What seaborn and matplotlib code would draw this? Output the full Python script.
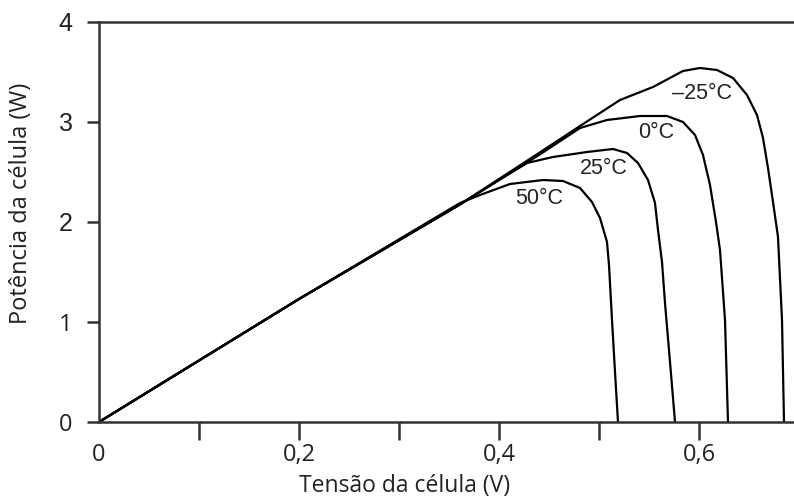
import matplotlib
matplotlib.use("Agg")
import matplotlib.pyplot as plt
import seaborn as sns
import pandas as pd

# ---- data ----
temp_labels = ["50°C", "25°C", "0°C", "–25°C"]

v_50 = [0, 0.20, 0.361, 0.381, 0.411, 0.444, 0.464, 0.481, 0.493, 0.501, 0.508, 0.510, 0.513, 0.516, 0.519]
p_50 = [0, 1.23, 2.19, 2.27, 2.38, 2.42, 2.41, 2.34, 2.20, 2.04, 1.80, 1.57, 1.02, 0.50, 0]

v_25 = [0, 0.20, 0.36, 0.40, 0.428, 0.454, 0.488, 0.514, 0.528, 0.539, 0.549, 0.556, 0.559, 0.563, 0.566, 0.571, 0.576]
p_25 = [0, 1.23, 2.17, 2.42, 2.59, 2.65, 2.70, 2.73, 2.69, 2.59, 2.42, 2.19, 1.92, 1.60, 1.19, 0.60, 0]

v_0 = [0, 0.20, 0.36, 0.40, 0.44, 0.481, 0.508, 0.541, 0.568, 0.584, 0.596, 0.604, 0.611, 0.617, 0.621, 0.626, 0.629]
p_0 = [0, 1.23, 2.17, 2.42, 2.67, 2.94, 3.02, 3.06, 3.06, 3.00, 2.87, 2.67, 2.37, 2.00, 1.72, 1.02, 0]

v_m25 = [0, 0.20, 0.36, 0.40, 0.44, 0.481, 0.521, 0.554, 0.584, 0.601, 0.618, 0.634, 0.648, 0.658, 0.664, 0.669, 0.674, 0.679, 0.683, 0.685]
p_m25 = [0, 1.23, 2.17, 2.43, 2.69, 2.96, 3.22, 3.35, 3.51, 3.54, 3.52, 3.44, 3.27, 3.07, 2.84, 2.54, 2.20, 1.85, 1.02, 0]

label_v = [0.440, 0.505, 0.557, 0.603]
label_p = [2.235, 2.535, 2.89, 3.285]

x_ticks = [0, 0.2, 0.4, 0.6]
x_tick_labels = ["0", "0,2", "0,4", "0,6"]
x_minor = [0.1, 0.3, 0.5]
y_ticks = [0, 1, 2, 3, 4]

# ---- build table ----
frames = []
for lab, vv, pp in zip(temp_labels, [v_50, v_25, v_0, v_m25], [p_50, p_25, p_0, p_m25]):
    frames.append(pd.DataFrame({"V": vv, "P": pp, "T": lab}))
df = pd.concat(frames, ignore_index=True)

sns.set_theme(style="white")
plt.rcParams["font.family"] = ["Open Sans", "DejaVu Sans"]

fig = plt.figure(figsize=(7.94, 5.0), dpi=100)
ax = fig.add_axes([99 / 794, 1 - 422 / 500, 1 - 99 / 794, 400 / 500])

sns.lineplot(data=df, x="V", y="P", hue="T", units="T", estimator=None, sort=False,
             palette={t: "black" for t in temp_labels}, legend=False, linewidth=1.6, ax=ax)
for ln in ax.get_lines():
    ln.set_solid_joinstyle("round")

ax.set_xlim(0, 0.695)
ax.set_ylim(0, 4)

spine_c = "#333333"
for s in ["left", "bottom", "top"]:
    ax.spines[s].set_visible(True)
    ax.spines[s].set_color(spine_c)
    ax.spines[s].set_linewidth(1.8)
ax.spines["right"].set_visible(False)

ax.set_xticks(x_ticks)
ax.set_xticklabels(x_tick_labels)
ax.set_xticks(x_minor, minor=True)
ax.set_yticks(y_ticks)
ax.set_yticklabels([str(y) for y in y_ticks])

ax.tick_params(axis="x", which="both", direction="out", length=13, width=1.8, color=spine_c,
               bottom=True, labelsize=17, pad=2, labelcolor="#222222")
ax.tick_params(axis="y", which="major", direction="out", length=9, width=1.8, color=spine_c,
               left=True, labelsize=17, pad=10, labelcolor="#222222")
ax.xaxis.get_major_ticks()[0].tick1line.set_visible(False)

for lbl in ax.get_yticklabels():
    if lbl.get_text() in ("2", "3", "4"):
        lbl.set_fontfamily(["Liberation Sans", "DejaVu Sans"])
        lbl.set_fontsize(18)

ax.set_xlabel("Tensão da célula (V)", fontsize=16.5, color="#222222")
ax.xaxis.label.set_verticalalignment("baseline")
ax.xaxis.set_label_coords((405 - 99) / 695, -(492 - 422) / 400)
ax.set_ylabel("Potência da célula (W)", fontsize=17, color="#222222")
ax.yaxis.set_label_coords((33 - 99) / 695, (422 - 203) / 400)

for lab, vx, py in zip(temp_labels, label_v, label_p):
    ax.text(vx, py, lab, ha="center", va="center", fontsize=15.5, color="#222222",
            family=["Liberation Sans", "DejaVu Sans"])

fig.savefig("out.png", dpi=100)
